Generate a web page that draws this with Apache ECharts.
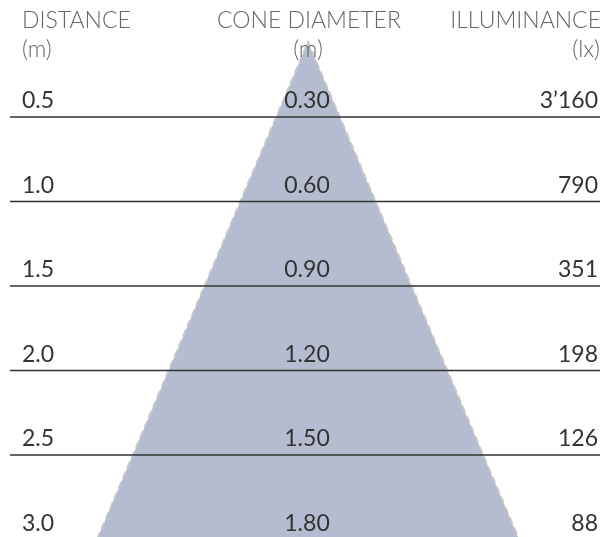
<!DOCTYPE html>
<html>
<head>
<meta charset="utf-8">
<script src="https://cdn.jsdelivr.net/npm/echarts@6/dist/echarts.min.js"></script>
<style>
html,body{margin:0;padding:0;background:#fff;}
#chart{width:610px;height:537px;}
</style>
</head>
<body>
<div id="chart"></div>
<script>
// Data
var distances = [0.5, 1.0, 1.5, 2.0, 2.5, 3.0];
var distanceLabels = ['0.5', '1.0', '1.5', '2.0', '2.5', '3.0'];
var coneDiameters = [0.30, 0.60, 0.90, 1.20, 1.50, 1.80];
var diameterLabels = ['0.30', '0.60', '0.90', '1.20', '1.50', '1.80'];
var illuminance = [3160, 790, 351, 198, 126, 88];
var illuminanceLabels = ['3\u2019160', '790', '351', '198', '126', '88'];
var headers = ['DISTANCE', 'CONE DIAMETER', 'ILLUMINANCE'];
var units = ['(m)', '(m)', '(lx)'];

var W = 610, H = 537;
var rowPx = 169;          // pixels per metre of distance (row axis)
var coneXPx = 239;        // pixels per metre of cone width
var coneCenter = 308;
var coneApexY = 42;
var firstLineY = 117;

var rowMin = distances[0] - firstLineY / rowPx;
var rowMax = rowMin + H / rowPx;
var coneYMin = -coneApexY / rowPx;
var coneYMax = coneYMin + H / rowPx;

var numFont = 'Lato, "Noto Sans", sans-serif';
var textColor = '#333333';
var headColor = '#666666';

var chart = echarts.init(document.getElementById('chart'), null, {renderer: 'canvas'});

var rowData = distances.map(function (d, i) { return [0, d, i]; });
var last = distances.length - 1;

var headX = [22, 309, 601];
var unitX = [22, 308, 600];
var headAlign = ['left', 'center', 'right'];

var option = {
  animation: false,
  grid: {left: 0, right: 0, top: 0, bottom: 0},
  xAxis: {
    type: 'value', show: false,
    min: -coneCenter / coneXPx, max: (W - coneCenter) / coneXPx
  },
  yAxis: [
    {type: 'value', show: false, inverse: true, min: rowMin, max: rowMax},
    {type: 'value', show: false, inverse: true, min: coneYMin, max: coneYMax}
  ],
  series: [
    {
      type: 'custom',
      xAxisIndex: 0, yAxisIndex: 1,
      silent: true, clip: false, z: 1,
      data: [[coneDiameters[last], distances[last]]],
      renderItem: function (params, api) {
        var diam = api.value(0), dist = api.value(1);
        var apex = api.coord([0, 0]);
        var l = api.coord([-diam / 2, dist]);
        var r = api.coord([diam / 2, dist]);
        return {
          type: 'polygon',
          shape: {points: [l, apex, r]},
          style: {fill: '#b5bccf', stroke: '#c8c8c8', lineWidth: 2, lineDash: [7, 4]}
        };
      }
    },
    {
      type: 'custom',
      xAxisIndex: 0, yAxisIndex: 0,
      silent: true, clip: false, z: 5,
      data: rowData,
      renderItem: function (params, api) {
        var i = api.value(2);
        var y = api.coord([0, api.value(1)])[1];
        var children = [];
        if (y < H) {
          children.push({
            type: 'line',
            shape: {x1: 10, y1: y, x2: 600, y2: y},
            style: {stroke: '#333333', lineWidth: 1.5}
          });
        }
        var ty = y - 16;
        var base = {fill: textColor, fontSize: 23, fontFamily: numFont, fontWeight: 400, verticalAlign: 'middle'};
        children.push({type: 'text', style: Object.assign({}, base, {text: distanceLabels[i], x: 22, y: ty, align: 'left'})});
        children.push({type: 'text', style: Object.assign({}, base, {text: diameterLabels[i], x: 307, y: ty, align: 'center'})});
        children.push({type: 'text', style: Object.assign({}, base, {text: illuminanceLabels[i], x: 598, y: ty, align: 'right'})});
        return {type: 'group', children: children};
      }
    },
    {
      type: 'custom',
      xAxisIndex: 0, yAxisIndex: 0,
      silent: true, clip: false, z: 10,
      data: headers.map(function (h, i) { return [0, 0, i]; }),
      renderItem: function (params, api) {
        var i = api.value(2);
        var base = {fill: headColor, fontSize: 23, fontFamily: numFont, fontWeight: 300, verticalAlign: 'middle', align: headAlign[i]};
        return {
          type: 'group',
          children: [
            {type: 'text', style: Object.assign({}, base, {text: headers[i], x: headX[i], y: 21})},
            {type: 'text', style: Object.assign({}, base, {text: units[i], x: unitX[i], y: 50})}
          ]
        };
      }
    }
  ]
};
chart.setOption(option);
</script>
</body>
</html>
